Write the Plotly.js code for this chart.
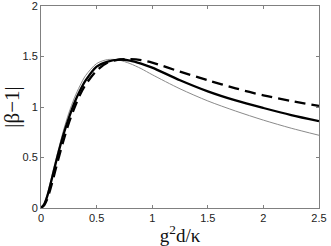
<!DOCTYPE html>
<html>
<head>
<meta charset="utf-8">
<script src="https://cdn.plot.ly/plotly-3.0.1.min.js"></script>
<style>html,body{margin:0;padding:0;background:#fff;}#chart{width:331px;height:246px;}</style>
</head>
<body>
<div id="chart"></div>
<script>
const xVals = [0, 0.03, 0.06, 0.1, 0.15, 0.2, 0.25, 0.3, 0.35, 0.4, 0.5, 0.6, 0.7, 0.8, 0.9, 1.0, 1.25, 1.5, 1.75, 2.0, 2.25, 2.5];
const thinGray = [0, 0.05, 0.15, 0.33, 0.55, 0.76, 0.94, 1.09, 1.21, 1.31, 1.43, 1.47, 1.465, 1.43, 1.38, 1.32, 1.18, 1.06, 0.96, 0.87, 0.79, 0.72];
const thickSolid = [0, 0.04, 0.13, 0.3, 0.52, 0.72, 0.89, 1.04, 1.16, 1.26, 1.40, 1.45, 1.47, 1.46, 1.43, 1.39, 1.265, 1.155, 1.065, 0.99, 0.92, 0.86];
const thickDashed = [0, 0.03, 0.1, 0.25, 0.46, 0.66, 0.84, 0.99, 1.12, 1.22, 1.36, 1.44, 1.47, 1.475, 1.465, 1.44, 1.35, 1.265, 1.185, 1.115, 1.06, 1.01];
const xTicks = [0, 0.5, 1, 1.5, 2, 2.5];
const xTickText = ['0', '0.5', '1', '1.5', '2', '2.5'];
const yTicks = [0, 0.5, 1, 1.5, 2];
const yTickText = ['0', '0.5', '1', '1.5', '2'];

const traces = [
  {x: xVals, y: thinGray, mode: 'lines', line: {color: '#8a8a8a', width: 1, shape: 'spline', smoothing: 0.8}},
  {x: xVals, y: thickSolid, mode: 'lines', line: {color: '#000', width: 2.3, shape: 'spline', smoothing: 0.8}},
  {x: xVals, y: thickDashed, mode: 'lines', line: {color: '#000', width: 2.3, dash: '11px,6px', shape: 'spline', smoothing: 0.8}}
];

const axisCommon = {
  showline: true, mirror: 'ticks', linecolor: '#808080', linewidth: 1,
  ticks: 'inside', ticklen: 3, tickcolor: '#808080',
  showgrid: false, zeroline: false, ticklabeloverflow: 'allow',
  tickfont: {family: 'Liberation Sans, Arial, sans-serif', size: 11, color: '#222'}
};

const layout = {
  width: 331, height: 246,
  margin: {l: 41, r: 12, t: 6, b: 38},
  paper_bgcolor: '#fff', plot_bgcolor: '#fff',
  showlegend: false,
  xaxis: Object.assign({}, axisCommon, {
    range: [0, 2.5], tickvals: xTicks, ticktext: xTickText,
    title: {text: 'g<sup>2</sup>d/κ', standoff: 0, font: {family: 'Liberation Serif, Times New Roman, serif', size: 19, color: '#111'}}
  }),
  yaxis: Object.assign({}, axisCommon, {
    range: [0, 2], tickvals: yTicks, ticktext: yTickText,
    title: {text: '|β−1|', standoff: 3, font: {family: 'Liberation Serif, Times New Roman, serif', size: 21, color: '#111'}}
  })
};

Plotly.newPlot('chart', traces, layout, {displayModeBar: false, staticPlot: true});
</script>
</body>
</html>
